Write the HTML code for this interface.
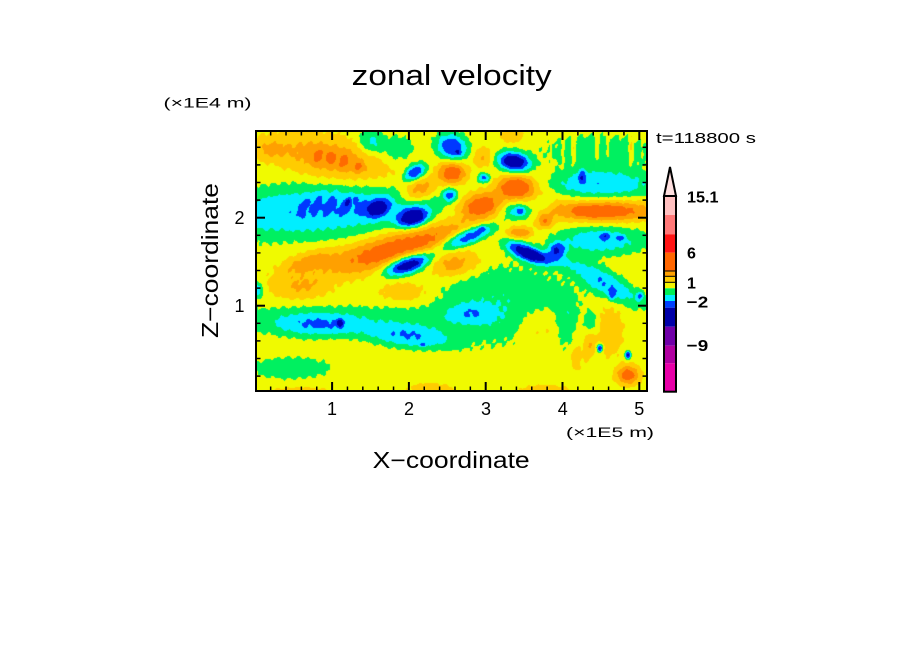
<!DOCTYPE html>
<html><head><meta charset="utf-8">
<style>
html,body{margin:0;padding:0;background:#fff;}
#wrap{position:relative;width:904px;height:654px;overflow:hidden;background:#fff;}
#cv{position:absolute;left:256px;top:131px;width:391px;height:260px;background:#f0fa00;}
svg{position:absolute;left:0;top:0;}
text{font-family:"Liberation Sans",sans-serif;fill:#000;}
</style></head>
<body><div id="wrap">
<canvas id="cv" width="391" height="260"></canvas>
<svg width="904" height="654" viewBox="0 0 904 654">
<text x="351.7" y="85" font-size="29" textLength="200" lengthAdjust="spacingAndGlyphs">zonal velocity</text>
<text x="163.5" y="107.5" font-size="14" textLength="88" lengthAdjust="spacingAndGlyphs">(×1E4 m)</text>
<text x="656" y="143" font-size="15" textLength="100" lengthAdjust="spacingAndGlyphs">t=118800 s</text>
<text x="372.7" y="468" font-size="23" textLength="157" lengthAdjust="spacingAndGlyphs">X−coordinate</text>
<text transform="translate(218,260.5) rotate(-90)" x="0" y="0" font-size="23" text-anchor="middle" textLength="155" lengthAdjust="spacingAndGlyphs">Z−coordinate</text>
<text x="566" y="437" font-size="14" textLength="88" lengthAdjust="spacingAndGlyphs">(×1E5 m)</text>
<g font-size="18" text-anchor="middle">
<text x="332" y="415">1</text><text x="409" y="415">2</text><text x="486" y="415">3</text><text x="562.7" y="415">4</text><text x="639.3" y="415">5</text>
<text x="239.5" y="224">2</text><text x="239.5" y="312">1</text>
</g>
<g id="ticks" stroke="#000" fill="none"></g>
<rect x="256" y="131" width="391" height="260" fill="none" stroke="#000" stroke-width="2"/>
<g>
<polygon points="664,196 676,196 670,167" fill="#ffe0e0" stroke="#000" stroke-width="2" stroke-linejoin="miter"/>
<rect x="664" y="196" width="12" height="19" fill="#ffc0c0"/>
<rect x="664" y="215" width="12" height="19.3" fill="#ff7878"/>
<rect x="664" y="234.3" width="12" height="18.4" fill="#ff1414"/>
<rect x="664" y="252.7" width="12" height="18.3" fill="#ff6600"/>
<rect x="664" y="271" width="12" height="5.3" fill="#ffa000"/>
<rect x="664" y="276.3" width="12" height="6" fill="#ffcc00"/>
<rect x="664" y="282.3" width="12" height="6" fill="#f5f500"/>
<rect x="664" y="288.3" width="12" height="6.7" fill="#00ee55"/>
<rect x="664" y="295" width="12" height="6" fill="#00eeff"/>
<rect x="664" y="301" width="12" height="6.7" fill="#0040ff"/>
<rect x="664" y="307.7" width="12" height="19" fill="#0000a8"/>
<rect x="664" y="326.7" width="12" height="19" fill="#7000a8"/>
<rect x="664" y="345.7" width="12" height="17.6" fill="#b000a0"/>
<rect x="664" y="363.3" width="12" height="28.4" fill="#e800a8"/>
<g stroke="#000" stroke-width="1">
<line x1="664" y1="271" x2="676" y2="271"/><line x1="664" y1="276.3" x2="676" y2="276.3"/><line x1="664" y1="282.3" x2="676" y2="282.3"/>
</g>
<rect x="664" y="196" width="12" height="195.7" fill="none" stroke="#000" stroke-width="2"/>
</g>
<g font-size="16" font-weight="bold">
<text x="687" y="202.5" textLength="31.5" lengthAdjust="spacingAndGlyphs">15.1</text>
<text x="687" y="258.6">6</text>
<text x="687" y="288.3">1</text>
<text x="686.7" y="307.5" textLength="21.5" lengthAdjust="spacingAndGlyphs">−2</text>
<text x="686.7" y="351.1" textLength="21.5" lengthAdjust="spacingAndGlyphs">−9</text>
</g>
</svg>
</div>
<script>
(function(){
var g=document.getElementById('ticks'),ns='http://www.w3.org/2000/svg';
function ln(x1,y1,x2,y2,w){var l=document.createElementNS(ns,'line');l.setAttribute('x1',x1);l.setAttribute('y1',y1);l.setAttribute('x2',x2);l.setAttribute('y2',y2);l.setAttribute('stroke-width',w);g.appendChild(l);}
for(var i=1;i<=25;i++){var v=i*0.2;var x=255.3+76.8*v;if(x>646)break;var maj=(i%5==0);var L=maj?9:4.5,w=maj?2:1.5;ln(x,391,x,391-L,w);ln(x,131,x,131+L,w);}
for(var i=1;i<=14;i++){var v=i*0.2;var y=393.7-88*v;if(y<132)break;var maj=(i%5==0);var L=maj?9:4.5,w=maj?2:1.5;ln(256,y,256+L,y,w);ln(647,y,647-L,y,w);}
var B=[
[330,158,65,22,12,2.0],[318,156,5,8,20,1.2],[331,158,5,8,20,1.2],[344,161,5,8,20,1.2],[358,167,6,6,0,1.2],
[268,150,18,10,0,1.0],
[315,211,120,26,-3,-2.4],
[304,206,4,12,25,-0.75],[318,201,4,13,25,-0.8],[332,202,5,13,25,-0.8],[346,205,5,11,25,-0.85],[360,207,5,9,30,-0.8],
[348,202,2.5,4,20,-1.3],[356,199,2.5,3.5,20,-1.2],
[378,208,13,9,-25,-2.8],
[413,218,16,10,-15,-4.2],
[398,248,82,17,-16,3.2],
[408,264,24,9,-18,-5.0],
[467,237,30,8,-22,-4.0],[482,229,4,3,0,-1.2],
[525,252,22,8,25,-3.6],
[557,250,9,8,0,-2.8],
[520,233,13,6,0,2.2],
[518,211,18,10,0,-2.6],[520,211,5,4,0,-1.5],
[480,205,22,13,-10,3.2],
[516,187,18,11,0,3.2],[525,195,35,25,0,1.0],
[605,211,50,10,0,2.4],[600,210,60,18,0,0.9],[580,211,5,5,0,1],[594,212,5,6,0,1],[608,211,4,5,0,1],
[600,185,58,15,0,-2.4],[600,152,60,18,0,-1.1],
[582,176,4,7,0,-1.8],
[452,173,15,12,0,3.3],
[452,147,16,13,20,-3.4],[458,153,3,3,0,-1.2],
[483,157,10,10,0,1.5],
[514,162,17,10,10,-4.6],
[512,136,12,7,0,1.5],
[484,178,6,5,0,-2.8],
[450,195,7,7,0,-2.5],
[543,203,10,7,0,-1.3],
[545,222,8,7,0,2.0],
[415,172,12,7,-30,-3.5],[420,190,18,10,-20,2.4],[370,142,12,12,0,-1.8],[395,150,20,15,0,-1.2],
[330,320,130,14,0,-1.3],[318,326,40,12,0,-1.5],[340,323,3,4,0,-2.5],
[410,337,45,11,5,-2.3],[423,345,3,2,0,-1.5],
[505,305,70,38,0,-1.4],[470,313,22,10,0,-1.2],[540,325,25,20,0,1.2],
[565,322,10,25,0,-1.1],[590,340,6,20,10,1.6],[576,358,5,14,0,1.3],
[605,283,40,12,30,-2.4],[612,295,4,6,0,-1.5],[640,296,4,5,0,-2],
[600,240,45,15,0,-2.2],[605,236,5,4,0,-1.5],[620,238,4,3,0,-1.5],
[545,258,25,7,15,-1.8],
[455,265,25,12,-10,2.0],
[300,288,30,12,0,1.3],[405,292,25,10,0,1.3],
[290,368,40,11,0,-1.3],
[628,375,12,10,0,3],[610,330,14,28,0,1.2],[600,348,3,4,0,-4],[628,355,3,4,0,-4],[592,325,6,12,0,-1.8],
[430,389,22,6,0,1.3],[545,390,25,5,0,1.3],[300,391,30,4,0,1.2],
[305,262,30,10,-20,1.5],
[257,290,6,8,0,-2.4]
];
var P=B.map(function(b){var a=b[4]*Math.PI/180;return [b[0],b[1],1/b[2],1/b[3],Math.cos(a),Math.sin(a),b[5]];});
var cols={3:[0,0,176],4:[0,56,255],5:[0,238,255],6:[0,240,96],7:[240,250,0],8:[255,204,0],9:[255,160,0],10:[255,106,0]};
var cv=document.getElementById('cv'),ctx=cv.getContext('2d');
var W=391,H=260,im=ctx.createImageData(W,H),d=im.data;
for(var py=0;py<H;py++){for(var px=0;px<W;px++){
 var x=256+px+0.5,y=131+py+0.5,f=7;
 for(var k=0;k<P.length;k++){var p=P[k];var dx=x-p[0],dy=y-p[1];
  var xr=(dx*p[4]+dy*p[5])*p[2],yr=(-dx*p[5]+dy*p[4])*p[3];var r2=xr*xr+yr*yr;
  if(r2<12)f+=p[6]*Math.exp(-Math.pow(r2,1.2));}
 if(x>550&&y<172){var s=Math.sin(x*0.55)+0.6*Math.sin(x*0.21+1);f+=1.2*Math.max(0,s-0.3)*Math.exp(-Math.pow((y-148)/14,2));}
 f+=0.18*Math.sin(x*0.61+2.5*Math.sin(y*0.09))*Math.sin(y*0.43+x*0.07);
 var idx=Math.round(f);if(idx<3)idx=3;if(idx>10)idx=10;
 var c=cols[idx],o=(py*W+px)*4;d[o]=c[0];d[o+1]=c[1];d[o+2]=c[2];d[o+3]=255;}}
ctx.putImageData(im,0,0);
})();
</script>
</body></html>
